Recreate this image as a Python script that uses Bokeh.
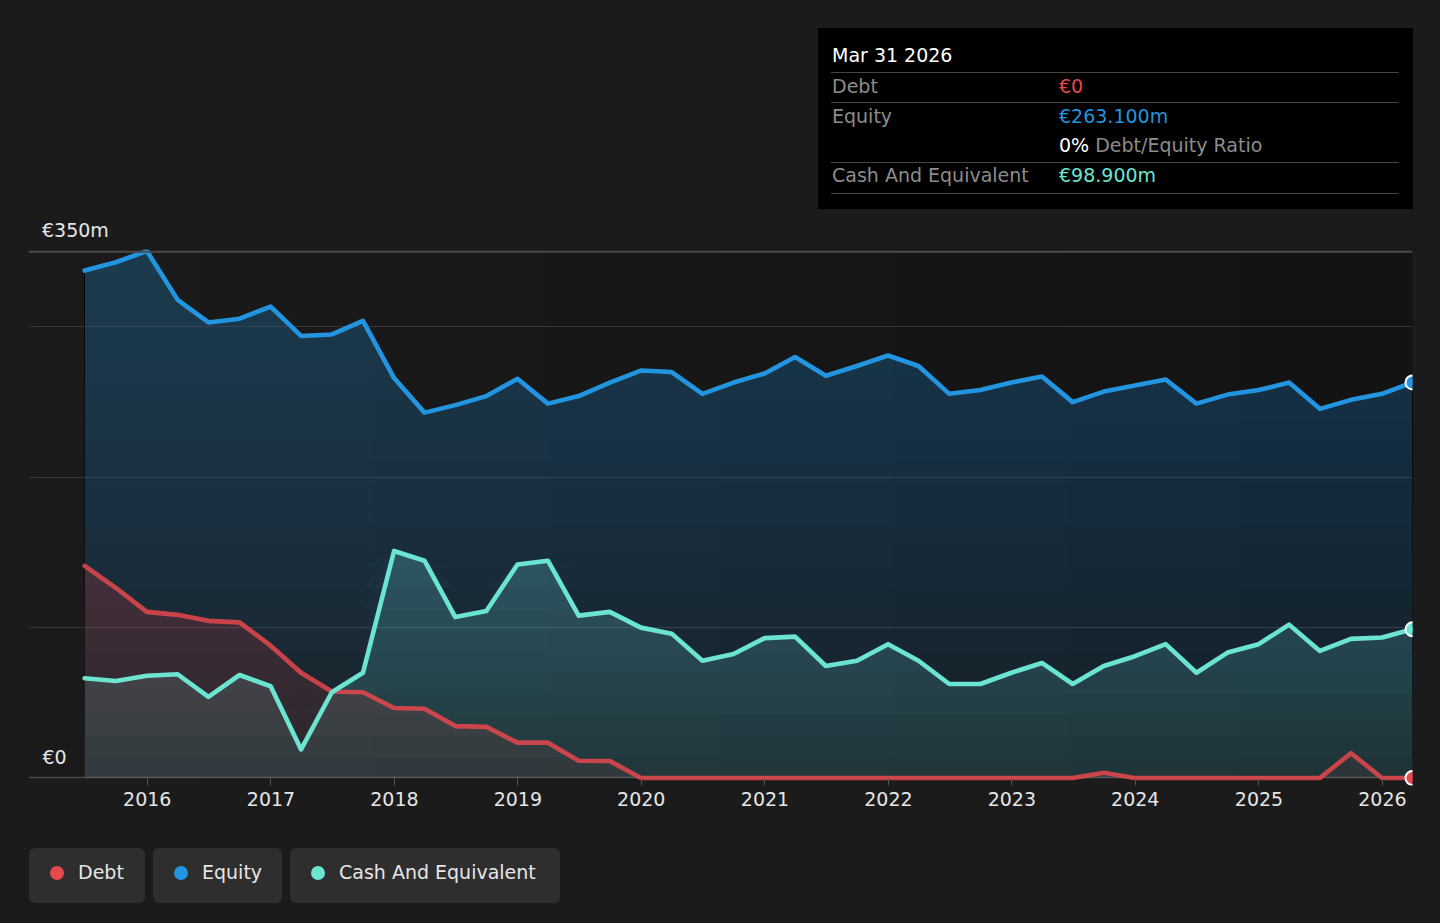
import numpy as np
import pandas as pd
from bokeh.plotting import figure
from bokeh.models import Range1d, FixedTicker, DatetimeTickFormatter, Div, Span
from bokeh.layouts import column
from bokeh.embed import file_html
from bokeh.resources import INLINE
from bokeh.core.properties import value

# ---------------- data ----------------
quarters = pd.period_range("2015Q2", "2026Q1", freq="Q")
dates = quarters.end_time.normalize()

debt = [141, 126.5, 110.5, 108.5, 104.5, 103.5, 88, 70, 57.5, 57, 46.5, 46,
        34.5, 34, 23.5, 23.5, 11.5, 11.3, 0, 0, 0, 0, 0, 0,
        0, 0, 0, 0, 0, 0, 0, 0, 0, 3.5, 0, 0,
        0, 0, 0, 0, 0, 16.5, 0, 0]

equity = [337.5, 343, 350.5, 318, 303, 305.5, 313.5, 294, 295, 304, 266, 243,
          248, 254, 265.5, 249, 254, 263, 271, 270, 255.5, 263, 269, 280,
          267.5, 274, 281, 274, 255.5, 258, 263, 267, 250, 257, 261, 265,
          249, 255, 258, 263, 245.5, 251.5, 255.5, 263.1]

cash = [66.3, 64.5, 68, 69, 54, 68.5, 61, 19, 57, 70, 151, 144.5,
        107, 111, 142, 144.5, 108, 110.5, 100, 96, 78, 82.5, 93, 94,
        74.5, 78, 89, 78, 62.5, 62.5, 70, 76.5, 62.5, 74.5, 81, 89,
        70, 83.4, 89, 102, 84.5, 92.5, 93.4, 98.9]

year_ticks = list(range(2016, 2027))
y_tick_values = [0, 350]
y_tick_labels = ["€0", "€350m"]
grid_values = [100, 200, 300]

series_names = ["Debt", "Equity", "Cash And Equivalent"]
series_values = [debt, equity, cash]
series_colors = ["#e5484d", "#2394df", "#6ce4d2"]

tooltip_date = "Mar 31 2026"

# ---------------- styles ----------------
FONT = "DejaVu Sans"
BG = "#1b1b1b"
TXT = "#e6e6e6"
PX_PER_DAY = 123.5 / 365.25
FRAME_W = 1384
Y_MIN, Y_MAX = -5, 351.5

x_end = dates[-1]
x_start = x_end - pd.Timedelta(days=FRAME_W / PX_PER_DAY)
ms = lambda t: pd.Timestamp(t).value / 1e6

p = figure(width=1424, height=589, x_axis_type="datetime",
           x_range=Range1d(ms(x_start), ms(x_end)),
           y_range=Range1d(Y_MIN, Y_MAX),
           output_backend="svg", toolbar_location=None,
           min_border_left=20, min_border_right=20,
           min_border_top=6, min_border_bottom=47,
           background_fill_color=BG, border_fill_color=BG,
           outline_line_color=None)

# frame background: subtle horizontal gradient (darker to the right)
ncol = 256
lv = np.linspace(27, 19, ncol).astype(np.uint32)
img = ((np.uint32(255) << 24) | (lv << 16) | (lv << 8) | lv).reshape(1, ncol)
p.image_rgba(image=[img], x=ms(x_start), y=y_tick_values[0],
             dw=ms(x_end) - ms(x_start), dh=y_tick_values[-1] - y_tick_values[0],
             level="image")

p.yaxis.visible = False
p.xgrid.visible = False
p.ygrid.ticker = FixedTicker(ticks=grid_values)
p.ygrid.grid_line_color = "#363636"
p.ygrid.grid_line_width = 1

p.add_layout(Span(location=y_tick_values[-1], dimension="width",
                  line_color="#4a4a4a", line_width=2))

xa = p.xaxis[0]
xa.ticker = FixedTicker(ticks=[ms(f"{y}-01-01") for y in year_ticks])
xa.formatter = DatetimeTickFormatter(years="%Y", months="%Y", days="%Y",
                                     hours="%Y", minutes="%Y", seconds="%Y",
                                     milliseconds="%Y", microseconds="%Y")
xa.axis_line_color = None
xa.major_tick_line_color = "#555555"
xa.major_tick_in = 7
xa.major_tick_out = 0
xa.minor_tick_line_color = None
xa.major_label_text_font = FONT
xa.major_label_text_font_size = "19px"
xa.major_label_text_color = TXT
xa.major_label_standoff = 6

# baseline at zero (below the series)
p.hspan(y=[y_tick_values[0]], line_color="#474747", line_width=1.5)

# gradient areas (alpha grows with height)
N_LAYERS = 25
layer_h = np.linspace(0, y_tick_values[-1], N_LAYERS + 1)[1:]


def gradient_area(vals, color, base_a, step_a):
    v = np.asarray(vals, dtype=float)
    p.varea(x=dates, y1=0, y2=v, fill_color=color, fill_alpha=base_a)
    for h in layer_h:
        if v.max() <= h:
            break
        p.varea(x=dates, y1=h, y2=np.maximum(v, h), fill_color=color,
                fill_alpha=step_a)


gradient_area(equity, series_colors[1], 0.08, 0.0152)
gradient_area(cash, "#6ee2dc", 0.12, 0.021)
gradient_area(debt, series_colors[0], 0.08, 0.0152)

# lines
LW = 4.6
p.line(dates, equity, line_color=series_colors[1], line_width=LW,
       line_join="round", line_cap="round")
p.line(dates, debt, line_color=series_colors[0], line_width=LW, line_alpha=0.85,
       line_join="round", line_cap="round")
p.line(dates, cash, line_color=series_colors[2], line_width=LW,
       line_join="round", line_cap="round")

for vals, col in zip(series_values, series_colors):
    p.scatter([dates[-1]], [vals[-1]], size=14, fill_color=col,
              line_color="white", line_width=2)

# "€0" label inside frame
p.text(x=[ms(x_start)], y=[y_tick_values[0]], text=[y_tick_labels[0]],
       x_offset=14, y_offset=-21, text_font=value(FONT),
       text_font_size="19px", text_color=TXT, text_baseline="middle",
       text_align="left")

# ---------------- top block (tooltip + top axis label) ----------------
def money(v):
    return "€0" if v == 0 else f"€{v:.3f}m"

ratio = round(debt[-1] / equity[-1] * 100)


def txt(left, center_y, s, color, extra=""):
    return (f'<div style="position:absolute;left:{left}px;top:{center_y - 11}px;'
            f'height:22px;line-height:22px;white-space:nowrap;color:{color};{extra}">{s}</div>')


def rule(top):
    return (f'<div style="position:absolute;left:13px;top:{top}px;width:568px;'
            f'height:0;border-top:1.5px solid #454545;"></div>')


GREY = "#8c8c8c"
box = [txt(14, 27, tooltip_date, "#ffffff"), rule(44),
       txt(14, 58.2, series_names[0], GREY), txt(241, 58.2, money(debt[-1]), series_colors[0]),
       rule(74),
       txt(14, 88, series_names[1], GREY), txt(241, 88, money(equity[-1]), series_colors[1]),
       txt(241, 117.3, f'<span style="color:#ffffff">{ratio}%</span> Debt/Equity Ratio', GREY),
       rule(134),
       txt(14, 147.3, series_names[2], GREY), txt(241, 147.3, money(cash[-1]), series_colors[2]),
       rule(165)]

top_html = (f'<div style="position:relative;width:1424px;height:235px;font-family:\'{FONT}\';'
            f'font-size:19px;">'
            f'<div style="position:absolute;left:810px;top:20px;width:595px;height:181px;'
            f'background:#000000;">{"".join(box)}</div>'
            + txt(34, 222, y_tick_labels[1], TXT) +
            '</div>')
top_div = Div(text=top_html, width=1424, height=235, styles={"margin": "0", "padding": "0"})

# ---------------- bottom block (legend) ----------------
legend_left = [21, 145, 282]
legend_width = [116, 129, 270]
items = []
for name, col, lft, w in zip(series_names, series_colors, legend_left, legend_width):
    items.append(
        f'<div style="position:absolute;left:{lft}px;top:16px;width:{w}px;height:55px;'
        f'background:#2e2e2e;border-radius:6px;">'
        f'<div style="position:absolute;left:21px;top:17.5px;width:14px;height:14px;'
        f'border-radius:7px;background:{col};"></div>'
        f'<div style="position:absolute;left:49px;top:-3px;height:55px;line-height:55px;'
        f'white-space:nowrap;color:{TXT};">{name}</div></div>')
bot_html = (f'<div style="position:relative;width:1424px;height:83px;font-family:\'{FONT}\';'
            f'font-size:19px;">{"".join(items)}</div>')
bot_div = Div(text=bot_html, width=1424, height=83, styles={"margin": "0", "padding": "0"})

layout = column(top_div, p, bot_div, spacing=0, styles={"background": BG})

html = file_html(layout, INLINE, "Debt to Equity History")
html = html.replace("</head>",
                    "<style>html, body { background: #1b1b1b; } body { margin: 8px !important; }</style></head>", 1)
open("out.html", "w").write(html)
